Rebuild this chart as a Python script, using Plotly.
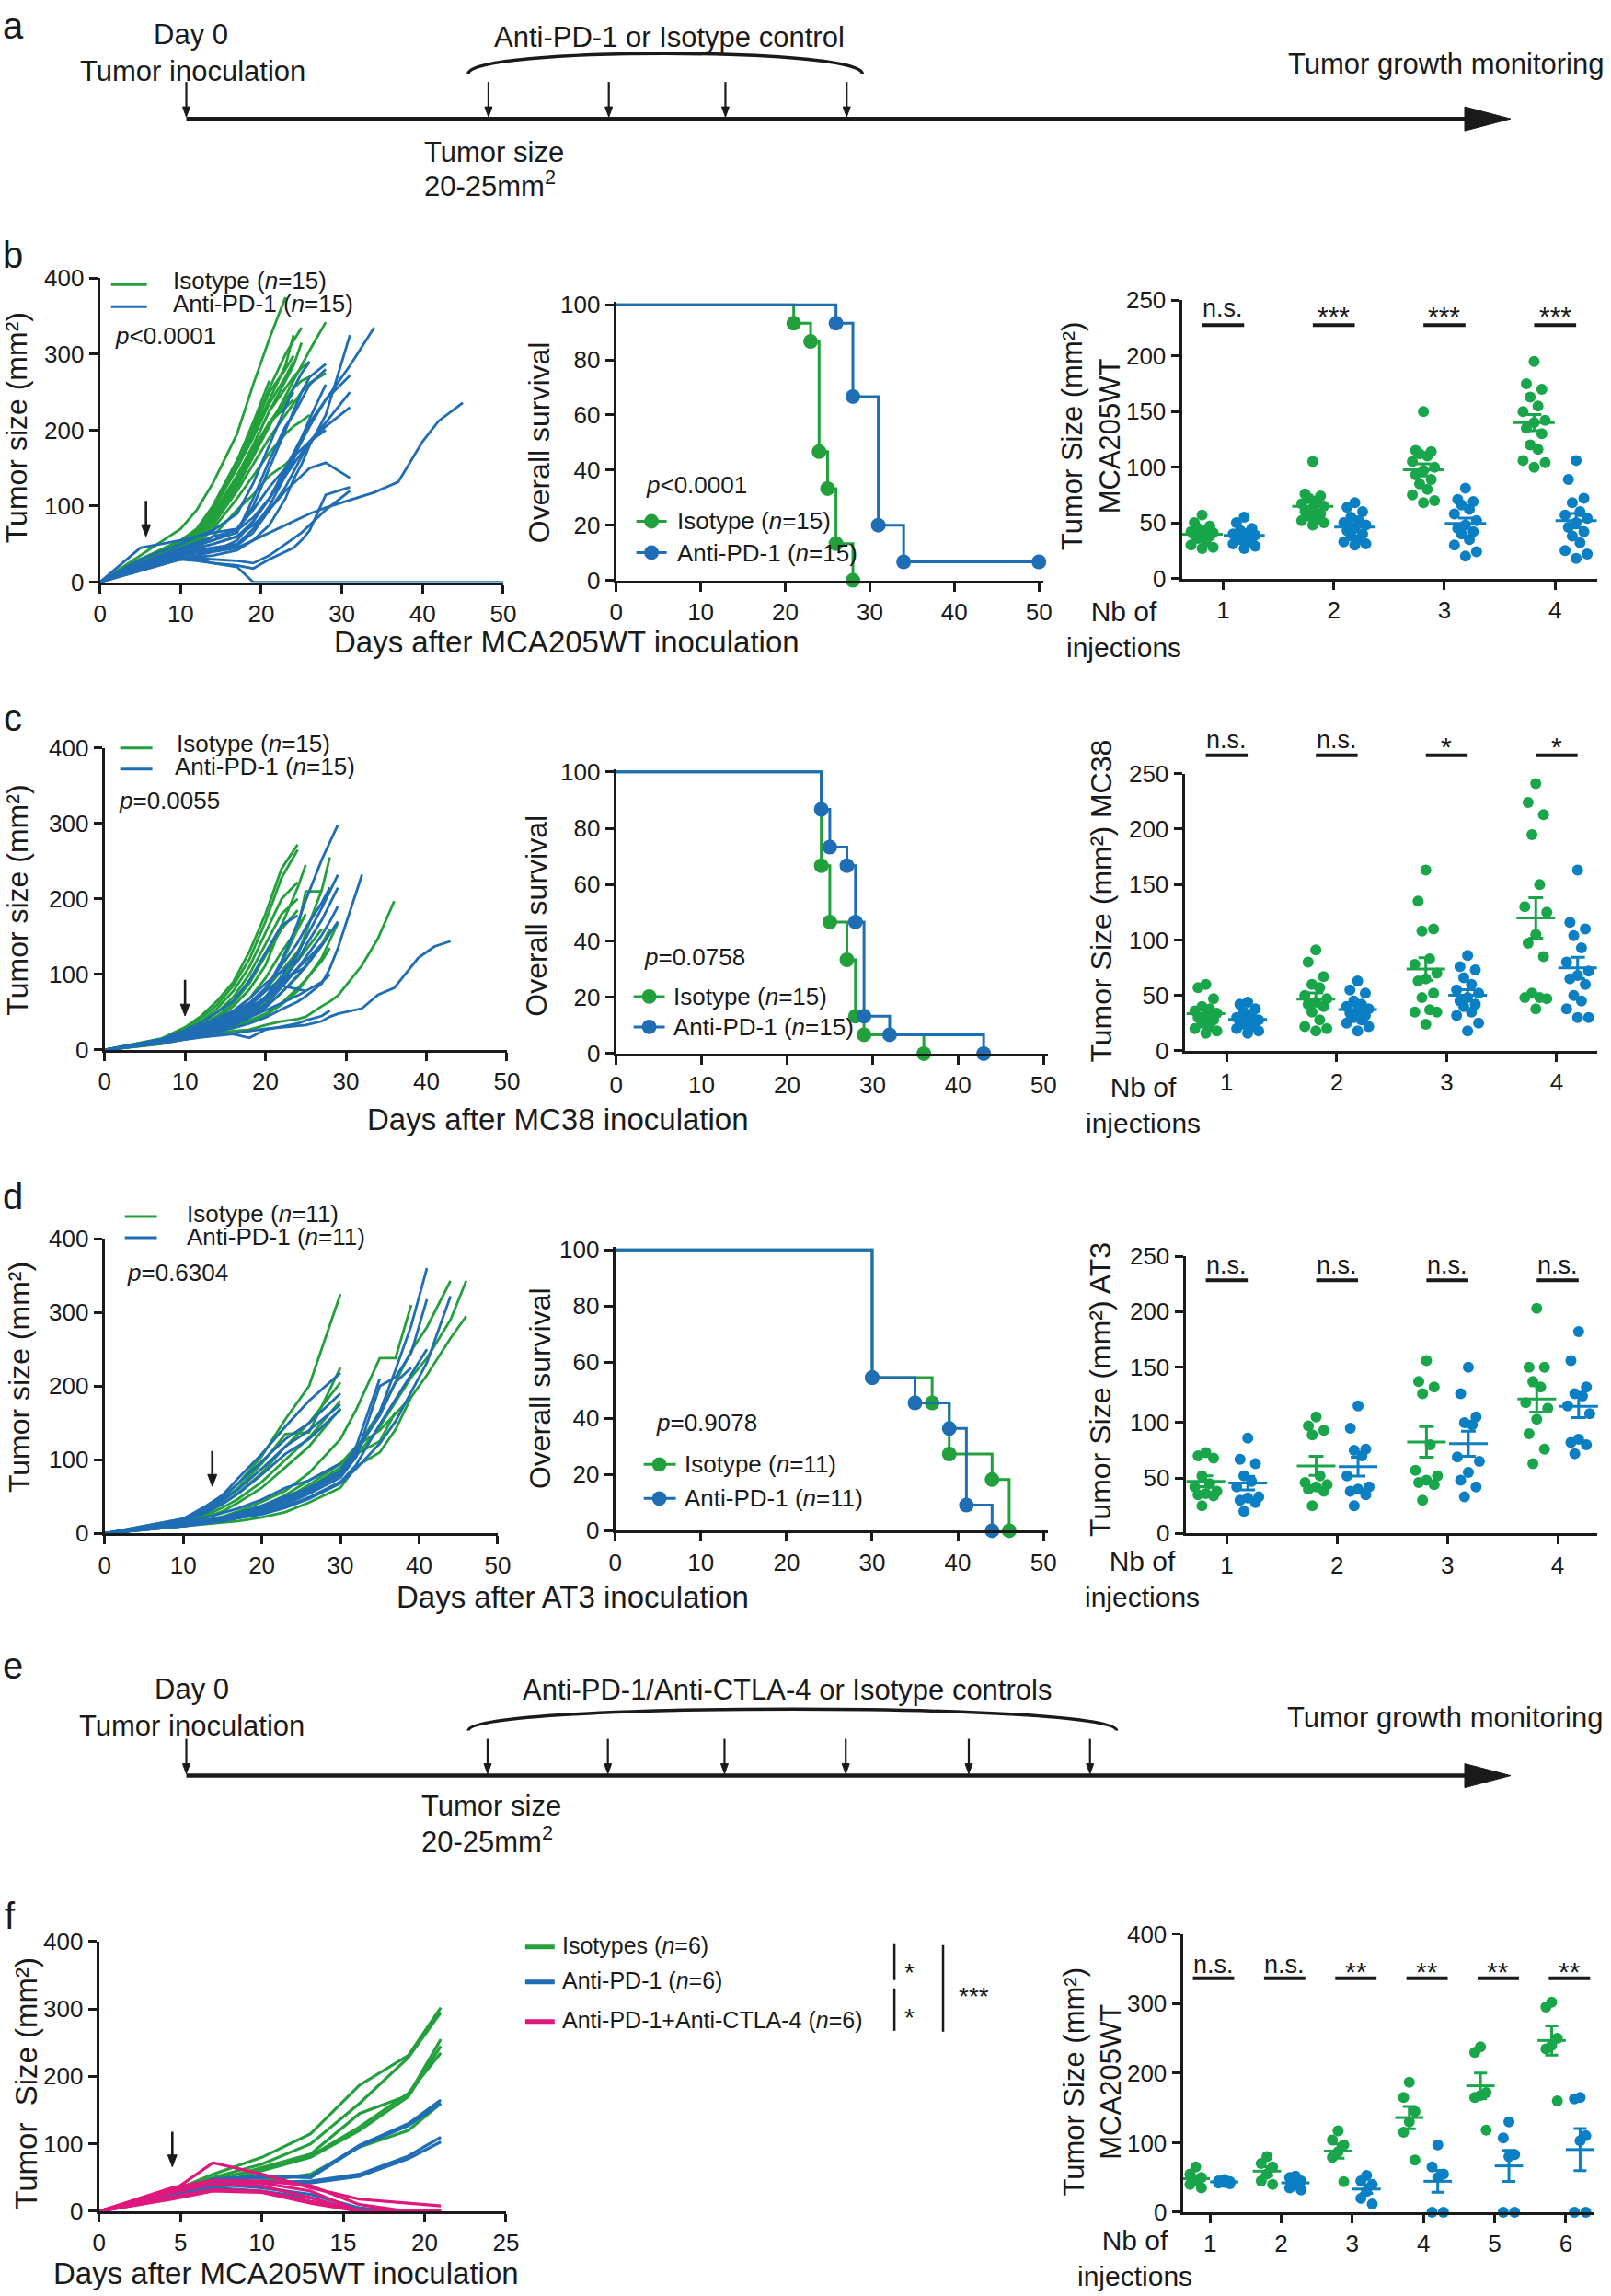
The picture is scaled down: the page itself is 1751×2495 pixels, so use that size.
import numpy as np
import plotly.graph_objects as go

W, H = 1751, 2495
FONT = "Liberation Sans, Arial, Helvetica, sans-serif"
INK = "#1a1a1a"
G_LINE = "#22a03c"
B_LINE = "#1f6db5"
G_DOT = "#19a64a"
B_DOT = "#0a7fc4"
PINK = "#e2177c"

# ============================ DATA ============================
# ---- b : MCA205WT growth curves (mm^2) ----
days_b = [0, 5, 10, 12, 14, 17, 19, 21, 23, 24, 25, 26, 28, 31, 34, 37, 40, 42, 45, 50]
b_iso = [
    [0, 35, 70, 95, 130, 195, 260, 320, 375],
    [0, 30, 55, 70, 100, 160, 205, 255, 300, 318, 335],
    [0, 28, 50, 65, 95, 150, 195, 240, 285, 325],
    [0, 30, 52, 68, 98, 155, 200, 250, 280, 298],
    [0, 25, 45, 60, 85, 140, 180, 225, 265, 285, 315],
    [0, 22, 42, 55, 80, 125, 165, 205, 245, 265, 285, 305, 342],
    [0, 22, 40, 52, 75, 120, 155, 190, 220, 235, 250, 262, 275],
    [0, 25, 45, 58, 82, 130, 170, 210, 240, 255, 265, 270],
    [0, 20, 38, 50, 70, 110, 140, 170, 195, 205, 212, 220],
    [0, 18, 35, 45, 60, 95, 115, 140, 155, 165],
    [0, 25, 45, 60, 85, 135, 175, 210, 235, 250],
    [0, 28, 50, 65, 95, 150, 190, 235, 270, 290],
    [0, 26, 48, 62, 90, 140, 180, 225, 255, 270, 282, 290],
    [0, 30, 52, 70, 100, 160, 210, 265],
    [0, 24, 44, 58, 84, 135, 172, 210, 230, 240],
]
b_pd1 = [
    [0, 20, 35, 38, 40, 45, 55, 65, 75, 80, 85, 90, 98, 108, 118, 132, 185, 212, 236],
    [0, 25, 30, 28, 25, 20, 0, 0, 0, 0, 0, 0, 0, 0, 0, 0, 0, 0, 0, 0],
    [0, 18, 32, 35, 40, 55, 80, 110, 145, 165, 185, 205, 240, 285, 335],
    [0, 15, 30, 33, 35, 42, 55, 75, 110, 135, 155, 180, 220, 325],
    [0, 22, 40, 45, 50, 60, 80, 110, 150, 170, 190, 210, 240, 272],
    [0, 20, 38, 40, 42, 48, 65, 95, 120, 130, 140, 150, 157, 137],
    [0, 15, 30, 32, 30, 28, 25, 35, 50, 58, 65, 75, 95, 120],
    [0, 18, 35, 30, 25, 22, 18, 30, 40, 45, 55, 68, 115, 125],
    [0, 45, 55, 60, 65, 70, 100, 150, 200, 225, 250, 270, 287],
    [0, 30, 50, 60, 68, 90, 130, 180, 230, 255, 275, 290],
    [0, 25, 45, 50, 55, 65, 110, 160, 205, 220, 240, 260, 280],
    [0, 20, 40, 42, 45, 50, 70, 100, 140, 160, 190, 215, 260],
    [0, 22, 42, 48, 55, 70, 95, 125, 150, 165, 175, 185, 200],
    [0, 25, 45, 52, 60, 68, 85, 110, 140, 155, 170, 185, 205, 230],
    [0, 20, 38, 45, 50, 60, 75, 95, 125, 145, 165, 185, 210, 250],
]
b_arrow = (5.7, 60, 107)

# ---- b : survival ----
surv_b_iso_t = [0, 21, 23, 24, 25, 26, 28]
surv_b_iso_s = [100, 93.3, 86.7, 46.7, 33.3, 13.3, 0]
surv_b_pd1_t = [0, 26, 28, 31, 34, 50]
surv_b_pd1_s = [100, 93.3, 66.7, 20.0, 6.7, 6.7]

# ---- b : tumour size per number of injections ----
b_dots_iso = [
    [57, 50, 47, 45, 43, 42, 41, 40, 39, 38, 36, 33, 30, 28, 27],
    [105, 76, 74, 72, 70, 67, 65, 63, 60, 58, 56, 54, 52, 50, 48],
    [150, 115, 114, 112, 110, 105, 100, 97, 93, 89, 85, 80, 75, 70, 68],
    [195, 175, 170, 163, 155, 150, 142, 140, 135, 130, 120, 116, 106, 104, 100],
]
b_dots_pd1 = [
    [55, 50, 45, 43, 41, 40, 39, 38, 37, 36, 35, 33, 31, 29, 27],
    [68, 64, 60, 55, 52, 50, 48, 45, 43, 40, 38, 35, 33, 31, 30],
    [81, 71, 69, 66, 62, 58, 52, 48, 45, 42, 40, 35, 30, 24, 20],
    [106, 89, 72, 68, 60, 57, 54, 50, 46, 42, 38, 32, 25, 22, 18],
]
b_sig = ["n.s.", "***", "***", "***"]

# ---- c : MC38 growth curves ----
days_c = [0, 7, 10, 12, 14, 16, 18, 20, 22, 24, 25, 27, 28, 29, 32, 34, 36, 39, 41, 43]
c_iso = [
    [0, 15, 30, 45, 65, 90, 130, 180, 240, 272],
    [0, 14, 28, 42, 60, 85, 120, 170, 228, 265],
    [0, 13, 26, 38, 55, 78, 110, 155, 200, 222],
    [0, 12, 24, 35, 50, 70, 100, 140, 180, 200],
    [0, 12, 22, 32, 45, 62, 88, 125, 160, 185],
    [0, 11, 21, 30, 42, 58, 80, 112, 165, 215, 245],
    [0, 11, 20, 28, 38, 50, 68, 95, 130, 160, 180],
    [0, 10, 19, 26, 34, 44, 58, 80, 105, 130, 150],
    [0, 10, 18, 25, 33, 43, 57, 80, 115, 160, 210, 210],
    [0, 10, 18, 24, 31, 40, 52, 70, 95, 118, 132, 160],
    [0, 9, 17, 23, 29, 37, 48, 62, 90, 125, 155, 212, 255],
    [0, 9, 16, 22, 27, 34, 43, 57, 76, 97, 112, 140, 160],
    [0, 9, 16, 21, 26, 32, 39, 48, 62, 82, 93, 118, 135],
    [0, 8, 15, 20, 25, 31, 37, 46, 60, 78, 92, 122, 146, 168],
    [0, 8, 14, 18, 22, 25, 27, 33, 38, 41, 44, 58, 64, 72, 112, 148, 197],
]
c_pd1 = [
    [0, 14, 26, 36, 50, 65, 92, 128, 165, 178],
    [0, 13, 24, 32, 42, 52, 68, 88, 104, 120],
    [0, 12, 21, 28, 37, 45, 56, 68, 85, 80, 78],
    [0, 12, 22, 30, 40, 50, 62, 78, 94, 104, 110],
    [0, 12, 21, 28, 36, 44, 55, 70, 88, 108, 118, 140],
    [0, 11, 19, 25, 30, 36, 43, 52, 62, 72, 78, 90, 100],
    [0, 11, 20, 28, 37, 47, 62, 82, 112, 142, 162, 195, 215],
    [0, 10, 15, 17, 19, 21, 16, 27, 31, 35, 39, 45, 52],
    [0, 11, 20, 26, 33, 43, 58, 78, 118, 168, 198, 252, 275, 298],
    [0, 11, 19, 25, 31, 40, 53, 70, 98, 128, 148, 188, 210, 232],
    [0, 10, 18, 24, 30, 38, 50, 66, 90, 118, 138, 172, 194, 215],
    [0, 10, 17, 23, 29, 36, 46, 60, 83, 108, 123, 152, 170, 190],
    [0, 10, 16, 21, 27, 33, 43, 56, 76, 98, 110, 138, 154, 170],
    [0, 9, 15, 19, 24, 29, 35, 43, 54, 64, 71, 88, 108, 135, 232],
    [0, 9, 14, 17, 20, 22, 25, 28, 30, 32, 33, 38, 44, 48, 55, 73, 82, 122, 137, 144],
]
c_arrow = (10, 45, 93)

surv_c_iso_t = [0, 24, 25, 27, 28, 29, 36]
surv_c_iso_s = [100, 66.7, 46.7, 33.3, 13.3, 6.7, 0]
surv_c_pd1_t = [0, 24, 25, 27, 28, 29, 32, 43]
surv_c_pd1_s = [100, 86.7, 73.3, 66.7, 46.7, 13.3, 6.7, 0]

c_dots_iso = [
    [60, 57, 47, 40, 38, 36, 34, 32, 30, 28, 25, 22, 20, 18, 16],
    [91, 80, 67, 60, 57, 50, 47, 44, 42, 40, 35, 28, 22, 20, 18],
    [163, 135, 110, 108, 83, 78, 70, 65, 63, 52, 48, 37, 35, 35, 24],
    [241, 224, 213, 195, 150, 130, 125, 105, 97, 85, 52, 48, 48, 47, 38],
]
c_dots_pd1 = [
    [44, 42, 38, 35, 32, 30, 28, 27, 26, 25, 24, 22, 20, 18, 16],
    [63, 55, 52, 45, 42, 40, 38, 36, 34, 32, 30, 28, 25, 22, 18],
    [86, 76, 73, 66, 60, 55, 52, 48, 45, 42, 40, 35, 32, 25, 18],
    [163, 116, 110, 104, 93, 80, 72, 68, 65, 60, 50, 45, 38, 30, 30],
]
c_sig = ["n.s.", "n.s.", "*", "*"]

# ---- d : AT3 growth curves ----
days_d = [0, 10, 13, 15, 17, 20, 23, 26, 30, 32, 35, 37, 39, 41, 44, 46]
d_iso = [
    [0, 20, 35, 50, 68, 105, 155, 200, 325],
    [0, 18, 32, 45, 62, 95, 135, 137, 225],
    [0, 16, 28, 40, 55, 82, 118, 150, 205],
    [0, 15, 25, 35, 47, 70, 100, 130, 180],
    [0, 14, 22, 30, 42, 62, 90, 118, 170],
    [0, 12, 17, 20, 26, 37, 52, 72, 95, 108, 125, 165],
    [0, 12, 18, 23, 30, 43, 58, 82, 128, 168, 238, 238, 310],
    [0, 11, 16, 20, 25, 35, 47, 66, 95, 118, 140, 162, 185],
    [0, 11, 15, 19, 24, 33, 45, 62, 90, 115, 165, 205, 248, 280, 343],
    [0, 10, 14, 18, 23, 31, 42, 57, 82, 105, 145, 178, 212, 238, 290, 343],
    [0, 10, 13, 15, 17, 22, 29, 42, 62, 91, 110, 141, 185, 215, 265, 295],
]
d_pd1 = [
    [0, 20, 38, 52, 75, 108, 145, 180, 218],
    [0, 18, 34, 48, 68, 98, 128, 150, 190],
    [0, 17, 31, 44, 60, 88, 118, 140, 175],
    [0, 16, 29, 40, 54, 80, 108, 128, 168],
    [0, 14, 22, 28, 34, 46, 62, 72, 95],
    [0, 12, 18, 22, 28, 38, 50, 62, 85, 118, 210],
    [0, 12, 17, 20, 25, 35, 47, 60, 80, 112, 160, 205, 225],
    [0, 11, 16, 20, 25, 33, 44, 57, 80, 108, 165, 222, 282, 360],
    [0, 11, 15, 18, 23, 30, 40, 54, 76, 104, 200, 212, 245, 318],
    [0, 10, 14, 17, 21, 28, 37, 49, 70, 93, 148, 182, 215, 250],
    [0, 10, 14, 17, 21, 26, 35, 47, 68, 88, 122, 152, 192, 232, 322],
]
d_arrow = (13.7, 64, 112)

surv_d_iso_t = [0, 30, 37, 39, 44, 46]
surv_d_iso_s = [100, 54.5, 45.5, 27.3, 18.2, 0]
surv_d_pd1_t = [0, 30, 35, 39, 41, 44]
surv_d_pd1_s = [100, 54.5, 45.5, 36.4, 9.1, 0]

d_dots_iso = [
    [73, 70, 68, 52, 45, 42, 38, 36, 35, 34, 25],
    [105, 97, 93, 89, 52, 46, 44, 42, 40, 38, 25],
    [156, 137, 132, 126, 80, 57, 52, 48, 46, 44, 30],
    [203, 150, 150, 137, 132, 118, 113, 103, 90, 76, 63],
]
d_dots_pd1 = [
    [86, 67, 63, 52, 47, 42, 33, 32, 30, 28, 20],
    [115, 95, 76, 75, 70, 52, 42, 40, 38, 35, 25],
    [150, 126, 105, 100, 98, 69, 65, 55, 48, 42, 33],
    [182, 156, 132, 126, 124, 115, 108, 85, 82, 80, 72],
]
d_sig = ["n.s.", "n.s.", "n.s.", "n.s."]

# ---- f : MCA205WT, anti-PD-1 +/- anti-CTLA-4 ----
days_f = [0, 4.5, 7, 10, 13, 16, 19, 21]
f_iso = [
    [0, 30, 55, 80, 115, 187, 231, 302],
    [0, 28, 50, 70, 100, 160, 228, 295],
    [0, 25, 45, 65, 85, 145, 172, 255],
    [0, 22, 40, 60, 80, 120, 170, 245],
    [0, 24, 48, 62, 82, 125, 175, 235],
    [0, 20, 35, 45, 55, 95, 120, 160],
]
f_pd1 = [
    [0, 25, 45, 50, 52, 98, 130, 165],
    [0, 28, 48, 52, 50, 96, 127, 160],
    [0, 22, 40, 42, 45, 55, 82, 110],
    [0, 20, 42, 45, 42, 52, 78, 103],
    [0, 24, 40, 35, 25, 5, 0, 0],
    [0, 20, 35, 30, 20, 0, 0, 0],
]
f_combo = [
    [0, 30, 72, 55, 35, 18, 12, 8],
    [0, 35, 46, 45, 38, 10, 0, 0],
    [0, 32, 45, 42, 30, 0, 0, 0],
    [0, 28, 40, 38, 20, 0, 0, 0],
    [0, 22, 32, 30, 15, 2, 0, 0],
    [0, 18, 30, 28, 12, 0, 0, 0],
]
f_arrow = (4.5, 66, 118)

f_dots_iso = [
    [65, 55, 50, 45, 40, 35],
    [80, 70, 65, 55, 45, 40],
    [117, 104, 97, 87, 79, 44],
    [187, 165, 145, 130, 115, 75],
    [238, 230, 172, 168, 165, 118],
    [302, 295, 250, 240, 235, 160],
]
f_dots_pd1 = [
    [47, 45, 44, 43, 42, 41],
    [52, 50, 45, 40, 35, 32],
    [53, 45, 40, 30, 20, 12],
    [97, 65, 55, 50, 0, 0],
    [130, 107, 83, 80, 0, 0],
    [165, 163, 110, 103, 0, 0],
]
f_sig = ["n.s.", "n.s.", "**", "**", "**", "**"]

# ============================ FIGURE ============================
fig = go.Figure()
layout = dict(width=W, height=H, margin=dict(l=0, r=0, t=0, b=0),
              paper_bgcolor="white", plot_bgcolor="rgba(0,0,0,0)", showlegend=False)
annotations = []
shapes = []
AXINFO = {}


def clamp(v):
    return min(max(v, 0.0), 1.0)


# layout placement helpers (pixel positions -> paper fractions)
def X(x):
    return (x + (x - 600) * 0.0103) / W


def Y(y):
    return 1 - (y + (y - 1400) * 0.013) / H


def refs(k):
    s = "" if k == 1 else str(k)
    return "x" + s, "y" + s


def make_axes(k, box, xr, yr, xt, yt, xtt=None):
    s = "" if k == 1 else str(k)
    xid, yid = refs(k)
    x0, x1, ytop, ybot = box
    common = dict(showline=True, linewidth=3, linecolor=INK, ticks="outside", ticklen=9,
                  tickwidth=3, tickcolor=INK, showgrid=False, zeroline=False,
                  tickfont=dict(family=FONT, size=26, color=INK), fixedrange=True)
    dx0, dx1 = clamp(X(x0)), clamp(X(x1))
    dy0, dy1 = clamp(Y(ybot)), clamp(Y(ytop))
    xa = dict(domain=[dx0, dx1], range=xr, anchor=yid, tickvals=xt, **common)
    if xtt is not None:
        xa["ticktext"] = xtt
    layout["xaxis" + s] = xa
    layout["yaxis" + s] = dict(domain=[dy0, dy1], range=yr, anchor=xid,
                               tickvals=yt, **common)
    AXINFO[k] = ((xr[1] - xr[0]) / ((dx1 - dx0) * W),
                 (yr[1] - yr[0]) / ((dy1 - dy0) * H))


def text(x, y, s, size=26, xanchor="center", yanchor="middle", angle=0):
    annotations.append(dict(x=X(x), y=Y(y), xref="paper", yref="paper", text=s,
                            showarrow=False, font=dict(family=FONT, size=size, color=INK),
                            xanchor=xanchor, yanchor=yanchor, textangle=angle))


def pline(x0, y0, x1, y1, color=INK, width=3):
    shapes.append(dict(type="line", xref="paper", yref="paper", x0=X(x0), y0=Y(y0),
                       x1=X(x1), y1=Y(y1), line=dict(color=color, width=width)))


def pcircle(cx, cy, r, color):
    shapes.append(dict(type="circle", xref="paper", yref="paper", x0=X(cx) - r / W, x1=X(cx) + r / W,
                       y0=Y(cy) - r / H, y1=Y(cy) + r / H, fillcolor=color,
                       line=dict(width=0)))


def ppath(pts, color=INK):
    d = "M " + " L ".join(f"{X(a)},{Y(b)}" for a, b in pts) + " Z"
    shapes.append(dict(type="path", xref="paper", yref="paper", path=d,
                       fillcolor=color, line=dict(color=color, width=1)))


def down_arrow(x, ytop, ytip):
    pline(x, ytop, x, ytip - 8, INK, 2.2)
    ppath([(x - 4, ytip - 11), (x, ytip), (x + 4, ytip - 11)])


def brace(x0, x1, ybase, yctrl):
    shapes.append(dict(type="path", xref="paper", yref="paper",
                       path=(f"M {X(x0)},{Y(ybase)} C {X(x0)},{Y(yctrl)} "
                             f"{X(x1)},{Y(yctrl)} {X(x1)},{Y(ybase)}"),
                       line=dict(color=INK, width=3.5)))


def growth(k, days, groups, arrow, w=2.8):
    xid, yid = refs(k)
    for series_list, color in groups:
        for vals in series_list:
            fig.add_trace(go.Scatter(x=days[:len(vals)], y=vals, mode="lines",
                                     line=dict(color=color, width=w), xaxis=xid, yaxis=yid,
                                     hoverinfo="skip"))
    day, tip, tail = arrow
    dx, dy = AXINFO[k]
    hw, hl = 5 * dx, 13 * dy
    shapes.append(dict(type="line", xref=xid, yref=yid, x0=day, x1=day, y0=tail, y1=tip + hl * 0.6,
                       line=dict(color=INK, width=2.6)))
    shapes.append(dict(type="path", xref=xid, yref=yid,
                       path=f"M {day-hw},{tip+hl} L {day},{tip} L {day+hw},{tip+hl} Z",
                       fillcolor=INK, line=dict(color=INK, width=1)))


def survival(k, curves):
    xid, yid = refs(k)
    for t, s, color in curves:
        fig.add_trace(go.Scatter(x=t, y=s, mode="lines+markers",
                                 line=dict(color=color, width=3, shape="hv"),
                                 marker=dict(size=[0] + [16] * (len(t) - 1), color=color,
                                             opacity=1, line=dict(width=0)),
                                 cliponaxis=False, xaxis=xid, yaxis=yid, hoverinfo="skip"))


def dots(k, iso, pd1, off, jit, dsize, mlen, cap):
    xid, yid = refs(k)
    for groups, sign, color in ((iso, -1, G_DOT), (pd1, 1, B_DOT)):
        xs, ys, mx, my, me = [], [], [], [], []
        for ci, vals in enumerate(groups):
            cat = ci + 1
            for j, v in enumerate(sorted(vals, reverse=True)):
                xs.append(cat + sign * off + jit[j % len(jit)])
                ys.append(v)
            arr = np.array(vals, dtype=float)
            mx.append(cat + sign * off)
            my.append(arr.mean())
            me.append(arr.std(ddof=1) / np.sqrt(len(arr)))
        fig.add_trace(go.Scatter(x=xs, y=ys, mode="markers", marker=dict(size=dsize, color=color),
                                 cliponaxis=False, xaxis=xid, yaxis=yid, hoverinfo="skip"))
        fig.add_trace(go.Scatter(x=mx, y=my, mode="markers",
                                 marker=dict(symbol="line-ew", size=mlen,
                                             line=dict(width=3, color=color)),
                                 error_y=dict(type="data", array=me, visible=True, color=color,
                                              thickness=3, width=cap),
                                 cliponaxis=False, xaxis=xid, yaxis=yid, hoverinfo="skip"))


def sig_bars(k, labels, lo, hi, ybar, ytext):
    xid, _ = refs(k)
    for i, lab in enumerate(labels):
        cat = i + 1
        shapes.append(dict(type="line", xref=xid, yref="paper", x0=cat + lo, x1=cat + hi,
                           y0=Y(ybar), y1=Y(ybar), line=dict(color=INK, width=4)))
        star = lab.startswith("*")
        yt = ytext + (8 if star else 0)
        annotations.append(dict(x=cat + (lo + hi) / 2, y=Y(yt), xref=xid, yref="paper",
                                text=lab, showarrow=False,
                                font=dict(family=FONT, size=30 if star else 27, color=INK),
                                xanchor="center", yanchor="middle"))


lin5 = [0, 10, 20, 30, 40, 50]
jit15 = [0, -0.07, 0.07, -0.035, 0.035, -0.1, 0.1, 0, -0.07, 0.07, -0.035, 0.035, -0.1, 0.1, 0]
jit6 = [0.0, -0.08, 0.08, 0.0, -0.08, 0.08]

# ---------------- panel a (timeline) ----------------
text(14, 31, "a", size=40)
text(207, 40, "Day 0", size=31)
text(209, 80, "Tumor inoculation", size=31)
text(728, 43, "Anti-PD-1 or Isotype control", size=31)
text(1573, 72, "Tumor growth monitoring", size=31)
text(537, 168, "Tumor size", size=31)
text(533, 203, "20-25mm<sup>2</sup>", size=31)
pline(202, 132, 1600, 132, INK, 4.5)
ppath([(1594, 119), (1644, 132), (1594, 145)])
for xa_ in [202, 531, 662, 789, 921]:
    down_arrow(xa_, 92, 130)
brace(509, 938, 83, 54)

# ---------------- panel b ----------------
text(13, 280, "b", size=40)
make_axes(1, (108, 547, 305, 635), [0, 50], [0, 400], lin5, [0, 100, 200, 300, 400])
growth(1, days_b, [(b_iso, G_LINE), (b_pd1, B_LINE)], b_arrow)
text(18, 467, "Tumor size (mm²)", size=32, angle=-90)
text(616, 700, "Days after MCA205WT inoculation", size=33)
pline(120, 312, 159, 312, G_LINE, 3)
pline(120, 336, 159, 336, B_LINE, 3)
text(185, 308, "Isotype (<i>n</i>=15)", size=26, xanchor="left")
text(185, 333, "Anti-PD-1 (<i>n</i>=15)", size=26, xanchor="left")
text(122, 368, "<i>p</i>&lt;0.0001", size=26, xanchor="left")

make_axes(2, (670, 1135, 331, 633), [0, 50.5], [0, 101], lin5, [0, 20, 40, 60, 80, 100])
survival(2, [(surv_b_iso_t, surv_b_iso_s, G_LINE), (surv_b_pd1_t, surv_b_pd1_s, B_LINE)])
text(587, 483, "Overall survival", size=32, angle=-90)
text(700, 530, "<i>p</i>&lt;0.0001", size=26, xanchor="left")
for yy, col, lab in [(569, G_LINE, "Isotype (<i>n</i>=15)"), (603, B_LINE, "Anti-PD-1 (<i>n</i>=15)")]:
    pline(692, yy, 725, yy, col, 3)
    pcircle(708.5, yy, 8, col)
    text(734, yy, lab, size=26, xanchor="left")

make_axes(3, (1286, 1738, 329, 631), [0.627, 4.378], [0, 250], [1, 2, 3, 4],
          [0, 50, 100, 150, 200, 250], ["1", "2", "3", "4"])
dots(3, b_dots_iso, b_dots_pd1, 0.19, jit15, 12, 32, 8)
sig_bars(3, b_sig, -0.19, 0.19, 356, 338)
text(1187, 476, "Tumor Size (mm²)<br>MCA205WT", size=31, angle=-90)
text(1223, 686, "Nb of<br>injections", size=30)

# ---------------- panel c ----------------
text(13, 782, "c", size=40)
make_axes(4, (113, 551, 815, 1143), [0, 50], [0, 400], lin5, [0, 100, 200, 300, 400])
growth(4, days_c, [(c_iso, G_LINE), (c_pd1, B_LINE)], c_arrow)
text(18, 980, "Tumor size (mm²)", size=32, angle=-90)
text(607, 1218, "Days after MC38 inoculation", size=33)
pline(130, 815, 165, 815, G_LINE, 3)
pline(130, 838, 165, 838, B_LINE, 3)
text(189, 810, "Isotype (<i>n</i>=15)", size=26, xanchor="left")
text(187, 835, "Anti-PD-1 (<i>n</i>=15)", size=26, xanchor="left")
text(126, 872, "<i>p</i>=0.0055", size=26, xanchor="left")

make_axes(5, (670, 1140, 838, 1147), [0, 50.5], [0, 101], lin5, [0, 20, 40, 60, 80, 100])
survival(5, [(surv_c_iso_t, surv_c_iso_s, G_LINE), (surv_c_pd1_t, surv_c_pd1_s, B_LINE)])
text(583, 997, "Overall survival", size=32, angle=-90)
text(698, 1042, "<i>p</i>=0.0758", size=26, xanchor="left")
for yy, col, lab in [(1085, G_LINE, "Isotype (<i>n</i>=15)"), (1118, B_LINE, "Anti-PD-1 (<i>n</i>=15)")]:
    pline(689, yy, 723, yy, col, 3)
    pcircle(706, yy, 8, col)
    text(730, yy, lab, size=26, xanchor="left")

make_axes(6, (1289, 1738, 843, 1144), [0.617, 4.366], [0, 250], [1, 2, 3, 4],
          [0, 50, 100, 150, 200, 250], ["1", "2", "3", "4"])
dots(6, c_dots_iso, c_dots_pd1, 0.19, jit15, 12, 30, 8)
sig_bars(6, c_sig, -0.19, 0.19, 823, 806)
text(1198, 981, "Tumor Size (mm²) MC38", size=32, angle=-90)
text(1244, 1203, "Nb of<br>injections", size=30)

# ---------------- panel d ----------------
text(13, 1302, "d", size=40)
make_axes(7, (113, 541, 1348, 1668), [0, 50], [0, 400], lin5, [0, 100, 200, 300, 400])
growth(7, days_d, [(d_iso, G_LINE), (d_pd1, B_LINE)], d_arrow)
text(20, 1498, "Tumor size (mm²)", size=32, angle=-90)
text(623, 1737, "Days after AT3 inoculation", size=33)
pline(135, 1324, 170, 1324, G_LINE, 3)
pline(135, 1347, 170, 1347, B_LINE, 3)
text(200, 1321, "Isotype (<i>n</i>=11)", size=26, xanchor="left")
text(200, 1346, "Anti-PD-1 (<i>n</i>=11)", size=26, xanchor="left")
text(135, 1385, "<i>p</i>=0.6304", size=26, xanchor="left")

make_axes(8, (669, 1140, 1357, 1665), [0, 50.5], [0, 101], lin5, [0, 20, 40, 60, 80, 100])
survival(8, [(surv_d_iso_t, surv_d_iso_s, G_LINE), (surv_d_pd1_t, surv_d_pd1_s, B_LINE)])
text(587, 1510, "Overall survival", size=32, angle=-90)
text(711, 1548, "<i>p</i>=0.9078", size=26, xanchor="left")
for yy, col, lab in [(1593, G_LINE, "Isotype (<i>n</i>=11)"), (1630, B_LINE, "Anti-PD-1 (<i>n</i>=11)")]:
    pline(700, yy, 735, yy, col, 3)
    pcircle(717, yy, 8, col)
    text(742, yy, lab, size=26, xanchor="left")

make_axes(9, (1290, 1738, 1367, 1668), [0.626, 4.356], [0, 250], [1, 2, 3, 4],
          [0, 50, 100, 150, 200, 250], ["1", "2", "3", "4"])
dots(9, d_dots_iso, d_dots_pd1, 0.19, jit15, 12, 30, 8)
sig_bars(9, d_sig, -0.19, 0.19, 1393, 1377)
text(1198, 1512, "Tumor Size (mm²) AT3", size=32, angle=-90)
text(1243, 1718, "Nb of<br>injections", size=30)

# ---------------- panel e (timeline) ----------------
text(13, 1811, "e", size=40)
text(208, 1837, "Day 0", size=31)
text(208, 1877, "Tumor inoculation", size=31)
text(856, 1838, "Anti-PD-1/Anti-CTLA-4 or Isotype controls", size=31)
text(1572, 1868, "Tumor growth monitoring", size=31)
text(534, 1964, "Tumor size", size=31)
text(530, 2000, "20-25mm<sup>2</sup>", size=31)
pline(202, 1931, 1600, 1931, INK, 4.5)
ppath([(1594, 1918), (1644, 1931), (1594, 1944)])
for xa_ in [202, 530, 661, 788, 920, 1054, 1186]:
    down_arrow(xa_, 1891, 1929)
brace(509, 1215, 1882, 1851)

# ---------------- panel f ----------------
text(10, 2083, "f", size=40)
make_axes(10, (107, 550, 2111, 2404), [0, 25], [0, 400], [0, 5, 10, 15, 20, 25],
          [0, 100, 200, 300, 400])
growth(10, days_f, [(f_iso, G_LINE), (f_pd1, B_LINE), (f_combo, PINK)], f_arrow, w=3.2)
text(28, 2265, "Tumor\u00a0\u00a0Size (mm²)", size=33, angle=-90)
text(311, 2471, "Days after MCA205WT inoculation", size=33)

for yy, col, lab in [(2117, G_LINE, "Isotypes (<i>n</i>=6)"), (2155, B_LINE, "Anti-PD-1 (<i>n</i>=6)"),
                     (2198, PINK, "Anti-PD-1+Anti-CTLA-4 (<i>n</i>=6)")]:
    pline(571, yy, 603, yy, col, 5)
    text(609, yy - 2, lab, size=25, xanchor="left")
pline(973, 2113, 973, 2153, INK, 2.5)
pline(973, 2162, 973, 2208, INK, 2.5)
pline(1026, 2115, 1026, 2209, INK, 2.5)
text(989, 2145, "*", size=28)
text(989, 2194, "*", size=28)
text(1060, 2171, "***", size=28)

make_axes(11, (1287, 1734, 2103, 2405), [0.618, 6.385], [0, 400], [1, 2, 3, 4, 5, 6],
          [0, 100, 200, 300, 400], ["1", "2", "3", "4", "5", "6"])
dots(11, f_dots_iso, f_dots_pd1, 0.2, jit6, 12, 22, 7)
sig_bars(11, f_sig, -0.24, 0.34, 2151, 2136)
text(1189, 2263, "Tumor Size (mm²)<br>MCA205WT", size=31, angle=-90)
text(1235, 2455, "Nb of<br>injections", size=30)

layout["annotations"] = annotations
layout["shapes"] = shapes
fig.update_layout(**layout)
fig.write_html("out.html", config={"displayModeBar": False},
               post_script="document.body.style.margin='0px';document.body.style.padding='0px';")
